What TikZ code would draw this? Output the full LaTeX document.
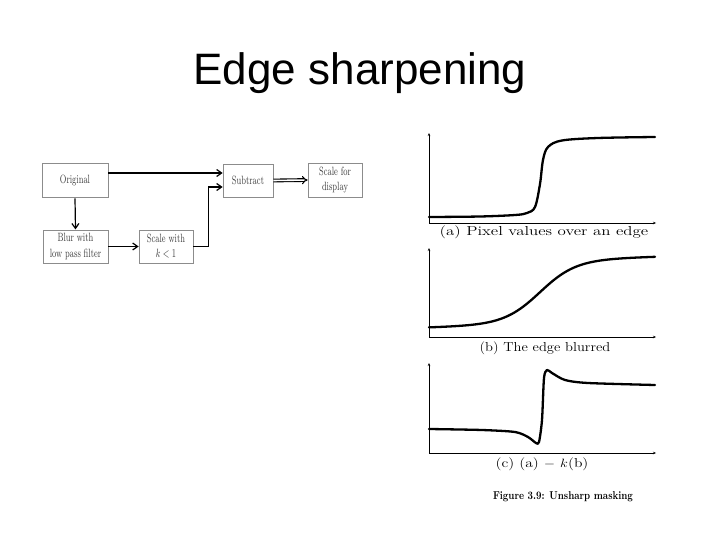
\documentclass[tikz,border=0pt]{standalone}
\usepackage{fontspec}
\newfontfamily\titlefont{Liberation Sans}
\usetikzlibrary{arrows.meta}
\begin{document}
\begin{tikzpicture}[x=1pt,y=-1pt,
  blk/.style={draw=black!45, line width=0.7pt, rectangle, inner sep=0pt, align=center,
    text=black!75, font=\fontsize{8}{10}\selectfont, yscale=1.5, transform shape},
  arr/.style={line width=1.2pt, -{Straight Barb[length=5pt,width=7pt]}},
  dbl/.style={double, double distance=1.6pt, line width=1.1pt, -{Implies[length=4pt]}},
  ax/.style={line width=0.6pt, -{Stealth[length=3pt,width=2.5pt]}},
  curve/.style={line width=2.3pt, line cap=round, line join=round},
  capt/.style={font=\fontsize{13}{15}\selectfont, transform shape}]
\useasboundingbox (0,0) rectangle (720,540);

\node[font=\titlefont\fontsize{44}{50}\selectfont, anchor=base] (title) at (360,85) {Edge sharpening};

% block diagram
\node[blk, minimum width=66pt, minimum height=23pt] (orig) at (75,180.5) {Original};
\node[blk, minimum width=50pt, minimum height=22pt] (sub) at (248,180.5) {Subtract};
\node[blk, minimum width=54pt, minimum height=22.7pt] (disp) at (335,180) {Scale for\\display};
\node[blk, minimum width=65pt, minimum height=22pt] (blur) at (75.5,246.5) {Blur with\\low pass filter};
\node[blk, minimum width=54pt, minimum height=22pt] (scl) at (166,246.5) {Scale with\\$k<1$};

\draw[arr] ([yshift=7.5pt]orig.east) -- ([yshift=7.5pt]sub.west);
\draw[arr] (orig.south) -- (blur.north);
\draw[arr] (blur.east) -- (scl.west);
\draw[arr] (scl.east) -- ++(15,0) |- ([yshift=-6.5pt]sub.west);
\draw[dbl] (sub.east) -- (disp.west);

% graph (a)
\coordinate (ao) at (429,223);
\coordinate (ay) at (429,133);
\coordinate (ax) at (656,223);
\draw[ax] (ao) -- (ay);
\draw[ax] (ao) -- (ax);
\draw[curve] plot[smooth, tension=0.55] coordinates {(429,217) (480,216.5) (515,215) (527,213) (535,207) (540,184) (543,160) (548,147) (562,140.5) (598,138) (655,137)};
\node[capt, xscale=1.3] (capa) at (544,232) {(a) Pixel values over an edge};

% graph (b)
\coordinate (bo) at (429,337);
\coordinate (by) at (429,248);
\coordinate (bx) at (656,337);
\draw[ax] (bo) -- (by);
\draw[ax] (bo) -- (bx);
\draw[curve] plot[domain=429:655, samples=120] (\x, {327.5-0.03*(\x-429)-64/(1+exp(-(\x-540)/18))});
\node[capt, xscale=1.12] (capb) at (545,348) {(b) The edge blurred};

% graph (c)
\coordinate (co) at (429,453);
\coordinate (cy) at (429,363);
\coordinate (cx) at (656,453);
\draw[ax] (co) -- (cy);
\draw[ax] (co) -- (cx);
\draw[curve] plot[smooth, tension=0.45] coordinates {(429,429) (482,430) (515,432) (528,437) (536,443) (539,442) (542,420) (544,378) (547,370) (552,373) (565,380) (588,383) (655,385)};
\node[capt, xscale=1.2] (capc) at (542,464) {(c) (a) $-$ $k$(b)};

\node[font=\fontsize{9.5}{11}\selectfont\bfseries, yscale=1.2, transform shape] (fig) at (563,497) {Figure 3.9: Unsharp masking};
\end{tikzpicture}
\end{document}
